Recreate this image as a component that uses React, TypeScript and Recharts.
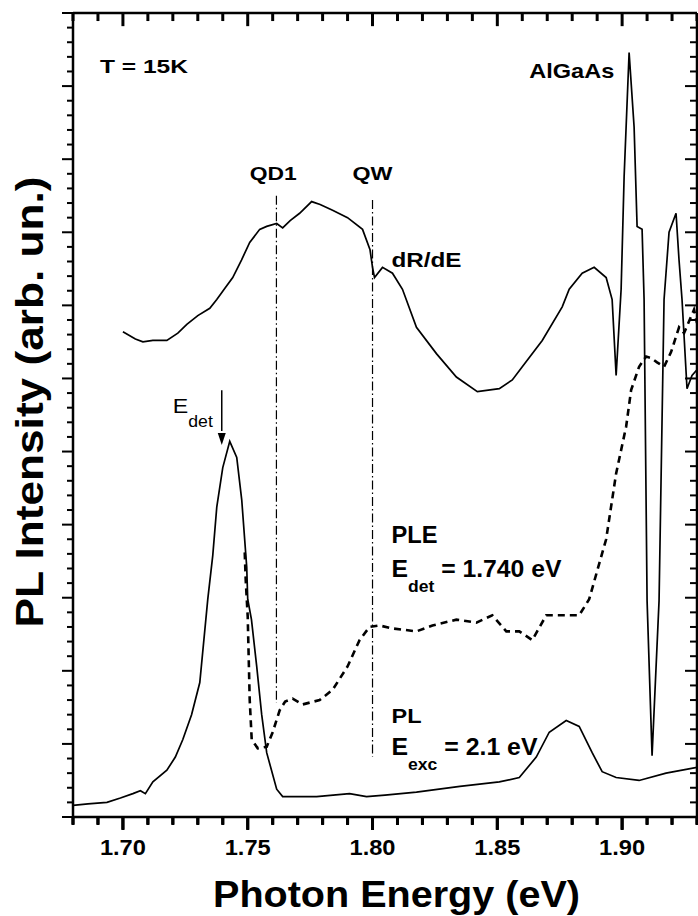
import { Line, LineChart, ReferenceDot, ReferenceLine, XAxis, YAxis } from "recharts";

const FONT = "'Liberation Sans', Arial, Helvetica, sans-serif";

// photon energy (eV) / intensity (arb. un.)
const drdeEnergy = [
  1.7, 1.705, 1.708, 1.712, 1.7176, 1.722, 1.7256, 1.73, 1.7348, 1.7376, 1.741, 1.744, 1.7475, 1.7508,
  1.7548, 1.7576, 1.7616, 1.764, 1.767, 1.7708, 1.7756, 1.779, 1.784, 1.79, 1.796, 1.799, 1.8, 1.8008,
  1.804, 1.808, 1.812, 1.8176, 1.8256, 1.8336, 1.842, 1.8508, 1.856, 1.86, 1.868, 1.876, 1.8788, 1.884,
  1.8888, 1.8936, 1.896, 1.8976, 1.8996, 1.9008, 1.9028, 1.9048, 1.906, 1.908, 1.9088, 1.91, 1.912,
  1.9148, 1.9168, 1.9188, 1.9216, 1.9228, 1.924, 1.926, 1.928, 1.93
];
const drdeValue = [
  33.2, 32.7, 32.5, 32.6, 32.6, 33.1, 33.7, 34.3, 34.8, 35.4, 36.2, 36.9, 38.1, 39.3,
  40.2, 40.4, 40.6, 40.3, 40.8, 41.3, 42.1, 41.9, 41.5, 41.0, 40.2, 38.8, 37.6, 36.9,
  37.6, 37.2, 36.1, 33.5, 31.7, 30.1, 29.1, 29.3, 29.9, 30.8, 32.6, 34.9, 36.1, 37.2,
  37.6, 36.9, 35.4, 30.2, 36.1, 43.8, 52.3, 47.2, 40.4, 40.2, 35.4, 14.8, 4.2,
  14.8, 35.4, 40.0, 41.3, 38.1, 35.4, 29.3, 30.2, 30.6
];

const plEnergy = [
  1.68, 1.686, 1.6936, 1.699, 1.704, 1.707, 1.709, 1.712, 1.7176, 1.721, 1.724, 1.7275, 1.7308, 1.734,
  1.736, 1.7376, 1.74, 1.7428, 1.7456, 1.7476, 1.7496, 1.75, 1.7515, 1.7536, 1.7556, 1.7576, 1.7616,
  1.764, 1.7776, 1.7908, 1.7976, 1.805, 1.8176, 1.835, 1.8508, 1.8588, 1.8656, 1.8708, 1.8776, 1.8828,
  1.888, 1.892, 1.8976, 1.9068, 1.9176, 1.93
];
const plValue = [
  0.8, 0.9, 1.0, 1.3, 1.6, 1.8, 1.6, 2.4, 3.2, 4.1, 5.3, 7.0, 9.2, 14.9,
  17.9, 21.2, 23.9, 25.7, 24.6, 21.7, 17.1, 14.9, 13.5, 10.3, 7.0, 4.4, 1.9,
  1.4, 1.4, 1.6, 1.4, 1.5, 1.7, 2.1, 2.4, 2.7, 4.1, 5.8, 6.6, 6.2,
  4.4, 3.1, 2.7, 2.5, 3.0, 3.4
];

const pleEnergy = [
  1.7488, 1.7492, 1.75, 1.7508, 1.7516, 1.754, 1.7576, 1.76, 1.7628, 1.765, 1.768, 1.772, 1.7788, 1.784,
  1.79, 1.7948, 1.7988, 1.8028, 1.808, 1.8176, 1.824, 1.8336, 1.8416, 1.848, 1.8536, 1.8588, 1.864,
  1.8696, 1.8776, 1.8828, 1.8868, 1.8936, 1.8976, 1.9016, 1.9036, 1.9068, 1.9096, 1.9116, 1.914, 1.9168,
  1.9196, 1.9228, 1.9248, 1.9288, 1.93
];
const pleValue = [
  18.1, 16.2, 13.7, 8.0, 5.3, 4.7, 4.8, 5.8, 7.3, 7.9, 8.1, 7.7, 8.0, 8.7,
  10.3, 12.1, 13.0, 13.1, 12.9, 12.7, 13.1, 13.5, 13.3, 13.8, 12.7, 12.7, 12.1,
  13.8, 13.8, 13.8, 14.9, 19.0, 23.5, 26.7, 29.2, 30.8, 31.5, 31.4, 31.1, 30.8,
  31.8, 33.5, 33.1, 34.7, 33.8
];

const xTicks = [1.68, 1.69, 1.7, 1.71, 1.72, 1.73, 1.74, 1.75, 1.76, 1.77, 1.78, 1.79, 1.8, 1.81, 1.82, 1.83,
  1.84, 1.85, 1.86, 1.87, 1.88, 1.89, 1.9, 1.91, 1.92, 1.93];
const xMajor = [1.7, 1.75, 1.8, 1.85, 1.9];
const xLabels = ["1.70", "1.75", "1.80", "1.85", "1.90"];
const yTicks = Array.from({ length: 56 }, (_, i) => i);

const toPoints = (es: number[], vs: number[]) => es.map((e, i) => ({ e, v: vs[i] }));
const drde = toPoints(drdeEnergy, drdeValue);
const pl = toPoints(plEnergy, plValue);
const ple = toPoints(pleEnergy, pleValue);

const majorIndex = (v: number) => xMajor.findIndex((m) => Math.abs(m - v) < 1e-6);

function BottomTick({ x, y, payload }: any) {
  const i = majorIndex(Number(payload.value));
  return (
    <g>
      <rect x={Number(x) - 1.5} y={Number(y)} width={3} height={i >= 0 ? 13 : 8} fill="#000" />
      {i >= 0 && (
        <text x={x} y={Number(y) + 38} textAnchor="middle" fontFamily={FONT} fontWeight={700} fontSize={22}
          textLength={46} lengthAdjust="spacingAndGlyphs" fill="#000">
          {xLabels[i]}
        </text>
      )}
    </g>
  );
}

function LeftTick({ x, y, payload }: any) {
  const len = payload.value % 5 === 0 ? 11 : 6;
  return <rect x={Number(x) - len} y={Number(y) - 1} width={len} height={2} fill="#000" />;
}

function note(children: any, width: number, size: number, anchor = "start", weight = 700) {
  return (p: any) => (
    <text x={p.cx} y={p.cy} fontFamily={FONT} fontWeight={weight} fontSize={size} textAnchor={anchor}
      textLength={width} lengthAdjust="spacingAndGlyphs" fill="#000">
      {children}
    </text>
  );
}

function arrowHead(p: any) {
  return <polygon points={`${p.cx - 4},${p.cy - 12} ${p.cx + 4},${p.cy - 12} ${p.cx},${p.cy}`} fill="#000" />;
}

const ax = { xAxisId: "b", yAxisId: "l" };
const frame = { stroke: "#000", strokeWidth: 2.5 };

export default function App() {
  return (
    <div style={{ position: "absolute", left: 0, top: 0, width: 698, height: 916, background: "#fff" }}>
      <LineChart width={698} height={916} margin={{ top: 13, right: 1, bottom: 0, left: 0 }}>
        <XAxis xAxisId="b" dataKey="e" type="number" domain={[1.68, 1.93]} ticks={xTicks} interval={0}
          allowDataOverflow height={99} tickSize={0} tickMargin={0} tickLine={false}
          axisLine={frame} tick={<BottomTick />} />
        <YAxis yAxisId="l" type="number" domain={[0, 55]} ticks={yTicks} interval={0} allowDataOverflow
          width={73} tickSize={0} tickMargin={0} tickLine={false}
          axisLine={frame} tick={<LeftTick />} />

        {/* top and right frame with inward ticks */}
        <ReferenceLine {...ax} y={55} ifOverflow="visible" stroke="#000" strokeWidth={2.5} />
        <ReferenceLine {...ax} x={1.93} ifOverflow="visible" stroke="#000" strokeWidth={2.5} />
        {xTicks.map((t) => (
          <ReferenceLine key={`t${t}`} {...ax} ifOverflow="visible" stroke="#000" strokeWidth={3}
            segment={[{ x: t, y: 55 }, { x: t, y: majorIndex(t) >= 0 ? 54.1 : 54.45 }]} />
        ))}
        {xTicks.map((t) => (
          <ReferenceLine key={`b${t}`} {...ax} ifOverflow="visible" stroke="#000" strokeWidth={3}
            segment={[{ x: t, y: 0 }, { x: t, y: majorIndex(t) >= 0 ? -0.85 : -0.5 }]} />
        ))}
        {yTicks.map((v) => (
          <ReferenceLine key={`r${v}`} {...ax} ifOverflow="visible" stroke="#000" strokeWidth={2}
            segment={[{ x: 1.93, y: v }, { x: v % 5 === 0 ? 1.9252 : 1.9272, y: v }]} />
        ))}

        <ReferenceLine {...ax} segment={[{ x: 1.7615, y: 42.5 }, { x: 1.7615, y: 7.8 }]}
          stroke="#000" strokeWidth={1.2} strokeDasharray="9 3 1.5 3" />
        <ReferenceLine {...ax} segment={[{ x: 1.8, y: 42.2 }, { x: 1.8, y: 4.1 }]}
          stroke="#000" strokeWidth={1.2} strokeDasharray="9 3 1.5 3" />
        <ReferenceLine {...ax} segment={[{ x: 1.7396, y: 29.2 }, { x: 1.7396, y: 26.4 }]}
          stroke="#000" strokeWidth={1.5} />
        <ReferenceDot {...ax} x={1.7396} y={25.45} r={0} shape={arrowHead} />

        <Line {...ax} data={drde} dataKey="v" type="linear" stroke="#000" strokeWidth={1.7} dot={false}
          isAnimationActive={false} />
        <Line {...ax} data={pl} dataKey="v" type="linear" stroke="#000" strokeWidth={1.7} dot={false}
          isAnimationActive={false} />
        <Line {...ax} data={ple} dataKey="v" type="linear" stroke="#000" strokeWidth={2.6} dot={false}
          strokeDasharray="7 5" isAnimationActive={false} />

        <ReferenceDot {...ax} x={1.6908} y={50.9} r={0} shape={note("T = 15K", 88, 18)} />
        <ReferenceDot {...ax} x={1.7602} y={43.58} r={0} shape={note("QD1", 47, 19, "middle")} />
        <ReferenceDot {...ax} x={1.8} y={43.58} r={0} shape={note("QW", 40, 19, "middle")} />
        <ReferenceDot {...ax} x={1.8628} y={50.55} r={0} shape={note("AlGaAs", 85, 21)} />
        <ReferenceDot {...ax} x={1.8076} y={37.63} r={0} shape={note("dR/dE", 70, 20)} />
        <ReferenceDot {...ax} x={1.72} y={27.64} r={0}
          shape={note([<tspan key="a">E</tspan>, <tspan key="b" dy={14} fontSize={16}>det</tspan>], 40, 21, "start", 400)} />
        <ReferenceDot {...ax} x={1.8076} y={18.74} r={0} shape={note("PLE", 46, 23)} />
        <ReferenceDot {...ax} x={1.8076} y={16.42} r={0}
          shape={note([<tspan key="a">E</tspan>, <tspan key="b" dy={15} fontSize={17}>det</tspan>,
            <tspan key="c" dy={-15}> = 1.740 eV</tspan>], 170, 24)} />
        <ReferenceDot {...ax} x={1.8076} y={6.43} r={0} shape={note("PL", 30, 21)} />
        <ReferenceDot {...ax} x={1.8076} y={4.24} r={0}
          shape={note([<tspan key="a">E</tspan>, <tspan key="b" dy={15} fontSize={17}>exc</tspan>,
            <tspan key="c" dy={-15}> = 2.1 eV</tspan>], 146, 24)} />

        <text x={396.5} y={907} textAnchor="middle" fontFamily={FONT} fontWeight={700} fontSize={37}
          textLength={367} lengthAdjust="spacingAndGlyphs" fill="#000">
          Photon Energy (eV)
        </text>
        <text transform="translate(43,402) rotate(-90)" textAnchor="middle" fontFamily={FONT} fontWeight={700}
          fontSize={39} textLength={451} lengthAdjust="spacingAndGlyphs" fill="#000">
          PL Intensity (arb. un.)
        </text>
      </LineChart>
    </div>
  );
}
